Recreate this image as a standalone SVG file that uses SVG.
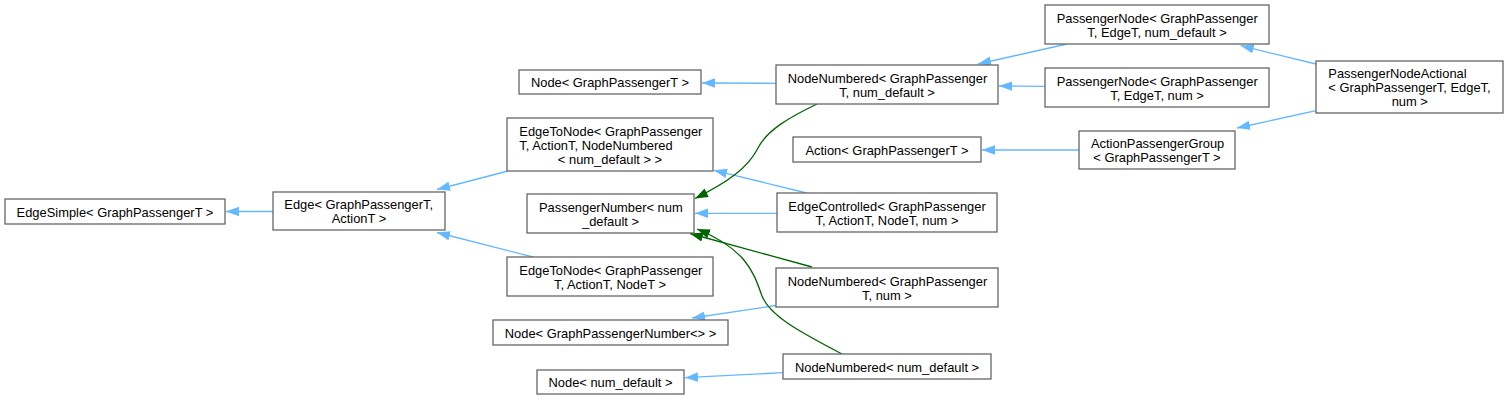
<svg xmlns="http://www.w3.org/2000/svg" width="1509" height="400" viewBox="0 0 1509 400">
<style>
.n rect{fill:#fff;stroke:#666;stroke-width:1.3}
text{font-family:"Liberation Sans",Arial,Helvetica,sans-serif;font-size:12.9px;fill:#000}
.c{text-anchor:middle}
.b{fill:none;stroke:#63b8ff;stroke-width:1.3;marker-end:url(#ab)}
.g{fill:none;stroke:#006400;stroke-width:1.3;marker-end:url(#ag)}
</style>
<defs>
<marker id="ab" markerUnits="userSpaceOnUse" viewBox="0 0 13 10" markerWidth="13" markerHeight="10" refX="13" refY="5" orient="auto"><path d="M0,0.3 L13,5 L0,9.7 z" fill="#63b8ff"/></marker>
<marker id="ag" markerUnits="userSpaceOnUse" viewBox="0 0 13 10" markerWidth="13" markerHeight="10" refX="13" refY="5" orient="auto"><path d="M0,0.3 L13,5 L0,9.7 z" fill="#006400"/></marker>
</defs>
<rect width="1509" height="400" fill="#fff"/>
<g id="edges">
<path class="b" d="M273,211.5 L226,211.5"/>
<path class="b" d="M508,171 L437,189.5"/>
<path class="b" d="M533,257 L437,232.5"/>
<path class="b" d="M776,83.3 L702,83"/>
<path class="b" d="M1067,44 L978,64"/>
<path class="b" d="M1045,86.3 L999,86"/>
<path class="b" d="M1316,64 L1240.7,45.7"/>
<path class="b" d="M1316,110.7 L1237,128"/>
<path class="b" d="M1079,150 L982,150"/>
<path class="b" d="M806.7,193 L714,170.3"/>
<path class="b" d="M777,213.3 L695,213.3"/>
<path class="b" d="M776,305.5 L692,318"/>
<path class="b" d="M783,372.7 L685,377.7"/>
<path class="g" d="M817,104 C790,117 767,130 758,148 C748,168 728,182 695,198.5"/>
<path class="g" d="M812,267 L690,233.5"/>
<path class="g" d="M842,354 C800,332 770,316 762,296 C754,274 748,250 697,229"/>
</g>
<g id="n1" class="n"><rect x="5" y="199" width="220" height="25"/><text class="c" x="115" y="216.5">EdgeSimple&lt; GraphPassengerT &gt;</text></g>
<g id="n2" class="n"><rect x="273" y="192" width="172" height="38"/><text x="284.3" y="209">Edge&lt; GraphPassengerT,</text><text class="c" x="359" y="223">ActionT &gt;</text></g>
<g id="n3" class="n"><rect x="519" y="70" width="182" height="24"/><text class="c" x="610" y="87">Node&lt; GraphPassengerT &gt;</text></g>
<g id="n4" class="n"><rect x="776" y="65" width="222" height="39"/><text x="787.7" y="82.5">NodeNumbered&lt; GraphPassenger</text><text class="c" x="887" y="96.5">T, num_default &gt;</text></g>
<g id="n5" class="n"><rect x="507" y="118" width="206" height="53"/><text x="519.3" y="135.5">EdgeToNode&lt; GraphPassenger</text><text x="519.3" y="149.5">T, ActionT, NodeNumbered</text><text class="c" x="610" y="163.5">&lt; num_default &gt; &gt;</text></g>
<g id="n6" class="n"><rect x="527" y="194" width="167" height="39"/><text x="539" y="211.5">PassengerNumber&lt; num</text><text class="c" x="610.5" y="225.5">_default &gt;</text></g>
<g id="n7" class="n"><rect x="507" y="257" width="206" height="39"/><text x="519.3" y="274.5">EdgeToNode&lt; GraphPassenger</text><text class="c" x="610" y="288.5">T, ActionT, NodeT &gt;</text></g>
<g id="n8" class="n"><rect x="493" y="320" width="235" height="25"/><text class="c" x="610.5" y="337.5">Node&lt; GraphPassengerNumber&lt;&gt; &gt;</text></g>
<g id="n9" class="n"><rect x="537" y="370" width="147" height="24"/><text class="c" x="610.5" y="387">Node&lt; num_default &gt;</text></g>
<g id="n10" class="n"><rect x="793" y="137" width="188" height="25"/><text class="c" x="887" y="154.5">Action&lt; GraphPassengerT &gt;</text></g>
<g id="n11" class="n"><rect x="777" y="193" width="220" height="39"/><text x="788.3" y="210.5">EdgeControlled&lt; GraphPassenger</text><text class="c" x="887" y="224.5">T, ActionT, NodeT, num &gt;</text></g>
<g id="n12" class="n"><rect x="776" y="268" width="222" height="39"/><text x="787.7" y="285.5">NodeNumbered&lt; GraphPassenger</text><text class="c" x="887" y="299.5">T, num &gt;</text></g>
<g id="n13" class="n"><rect x="783" y="354" width="208" height="25"/><text class="c" x="887" y="371.5">NodeNumbered&lt; num_default &gt;</text></g>
<g id="n14" class="n"><rect x="1045" y="5" width="224" height="39"/><text x="1056.7" y="22.5">PassengerNode&lt; GraphPassenger</text><text class="c" x="1157" y="36.5">T, EdgeT, num_default &gt;</text></g>
<g id="n15" class="n"><rect x="1045" y="68" width="224" height="39"/><text x="1056.7" y="85.5">PassengerNode&lt; GraphPassenger</text><text class="c" x="1157" y="99.5">T, EdgeT, num &gt;</text></g>
<g id="n16" class="n"><rect x="1079" y="131" width="156" height="38"/><text x="1091" y="148">ActionPassengerGroup</text><text class="c" x="1157" y="162">&lt; GraphPassengerT &gt;</text></g>
<g id="n17" class="n"><rect x="1316" y="61" width="187" height="52"/><text x="1328.3" y="78">PassengerNodeActional</text><text x="1328.3" y="92">&lt; GraphPassengerT, EdgeT,</text><text class="c" x="1409.8" y="106">num &gt;</text></g>
</svg>
